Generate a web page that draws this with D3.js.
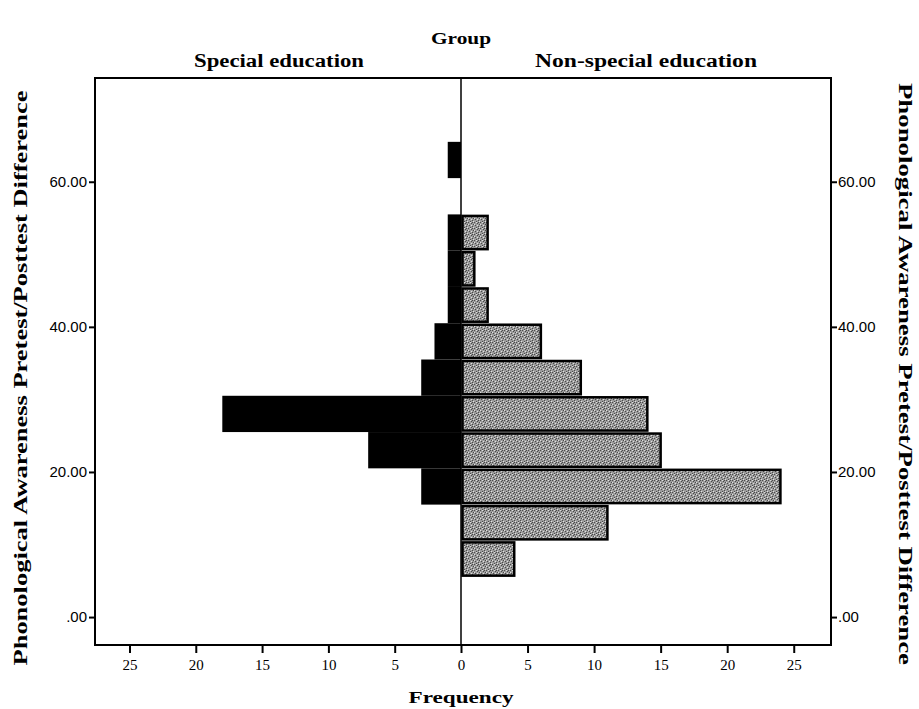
<!DOCTYPE html>
<html>
<head>
<meta charset="utf-8">
<script src="https://cdn.jsdelivr.net/npm/d3@7/dist/d3.min.js"></script>
<style>
  body { margin: 0; background: #fff; }
  .title { font-family: "Liberation Serif", "DejaVu Serif", serif; font-weight: bold; }
  .ytick text { font-family: "Liberation Sans", Arial, sans-serif; font-size: 15px; }
  .xtick text { font-family: "Liberation Serif", serif; font-size: 15px; }
</style>
</head>
<body>
<div id="root"></div>
<script>
// Size of the page
const width = 919;
const height = 709;

// Plot frame
const frameLeft = 95;
const frameRight = 831;
const frameTop = 78;
const frameBottom = 645;
const center = 461;

// Histogram bins (lower edge of each 5-point bin)
const binStarts = [5.5, 10.5, 15.5, 20.5, 25.5, 30.5, 35.5, 40.5, 45.5, 50.5, 55.5, 60.5];
const binWidth = 5;

// Frequencies per bin
const specialEd = [0, 0, 3, 7, 18, 3, 2, 1, 1, 1, 0, 1];
const nonSpecialEd = [4, 11, 24, 15, 14, 9, 6, 2, 1, 2, 0, 0];

// Tick values and labels
const yTicks = [0, 20, 40, 60];
const yTickLabels = [".00", "20.00", "40.00", "60.00"];
const xTicks = [0, 5, 10, 15, 20, 25];

const groupTitle = "Group";
const panelTitles = ["Special education", "Non-special education"];
const yTitle = "Phonological Awareness Pretest/Posttest Difference";
const xTitle = "Frequency";

// Creating svg
const svg = d3
  .select("#root")
  .append("svg")
  .attr("width", width)
  .attr("height", height);

// Texture for the grey bars
const defs = svg.append("defs");
const pat = defs
  .append("pattern")
  .attr("id", "grain")
  .attr("patternUnits", "userSpaceOnUse")
  .attr("width", 6)
  .attr("height", 6);
pat.append("rect").attr("width", 6).attr("height", 6).attr("fill", "#9c9c9c");
[[0, 0], [3, 1], [1, 3], [4, 4], [2, 5], [5, 2], [4, 0]].forEach(p => {
  pat.append("rect").attr("x", p[0]).attr("y", p[1]).attr("width", 1).attr("height", 1).attr("fill", "#4a4a4a");
});
[[2, 0], [0, 2], [5, 5], [3, 3]].forEach(p => {
  pat.append("rect").attr("x", p[0]).attr("y", p[1]).attr("width", 1).attr("height", 1).attr("fill", "#e0e0e0");
});

// Scales
const yScale = d3.scaleLinear().domain([-3.85, 74.3]).range([frameBottom, frameTop]);
const xLeft = d3.scaleLinear().domain([0, 27.6]).range([center, frameLeft]);
const xRight = d3.scaleLinear().domain([0, 27.8]).range([center, frameRight]);

// Bars: special education (left, black)
svg
  .append("g")
  .attr("class", "special-bars")
  .selectAll("rect")
  .data(binStarts.map((b, i) => ({ b: b, n: specialEd[i] })).filter(d => d.n > 0))
  .enter()
  .append("rect")
  .attr("x", d => xLeft(d.n))
  .attr("y", d => yScale(d.b + binWidth))
  .attr("width", d => center - xLeft(d.n))
  .attr("height", d => yScale(d.b) - yScale(d.b + binWidth))
  .attr("fill", "#000");

// Bars: non-special education (right, grey)
svg
  .append("g")
  .attr("class", "nonspecial-bars")
  .selectAll("rect")
  .data(binStarts.map((b, i) => ({ b: b, n: nonSpecialEd[i] })).filter(d => d.n > 0))
  .enter()
  .append("rect")
  .attr("x", center + 1.5)
  .attr("y", d => yScale(d.b + binWidth) + 1.5)
  .attr("width", d => xRight(d.n) - center - 1.5)
  .attr("height", d => yScale(d.b) - yScale(d.b + binWidth) - 3)
  .attr("fill", "url(#grain)")
  .attr("stroke", "#000")
  .attr("stroke-width", 2.5);

// Center line
svg
  .append("line")
  .attr("x1", center)
  .attr("x2", center)
  .attr("y1", frameTop)
  .attr("y2", frameBottom)
  .attr("stroke", "#000")
  .attr("stroke-width", 1.5);

// Frame
svg
  .append("rect")
  .attr("x", frameLeft)
  .attr("y", frameTop)
  .attr("width", frameRight - frameLeft)
  .attr("height", frameBottom - frameTop)
  .attr("fill", "none")
  .attr("stroke", "#000")
  .attr("stroke-width", 2);

// Y axes
const yAxisL = d3
  .axisLeft(yScale)
  .tickValues(yTicks)
  .tickSize(6)
  .tickPadding(2)
  .tickFormat((d, i) => yTickLabels[i]);

const yAxisR = d3
  .axisRight(yScale)
  .tickValues(yTicks)
  .tickSize(6)
  .tickPadding(1)
  .tickFormat((d, i) => yTickLabels[i]);

svg
  .append("g")
  .attr("class", "ytick")
  .attr("transform", "translate(" + frameLeft + ",0)")
  .call(yAxisL)
  .call(g => g.select(".domain").remove());

svg
  .append("g")
  .attr("class", "ytick")
  .attr("transform", "translate(" + frameRight + ",0)")
  .call(yAxisR)
  .call(g => g.select(".domain").remove());

// X axes
const xAxisL = d3.axisBottom(xLeft).tickValues(xTicks).tickSize(8).tickPadding(6).tickFormat(d3.format("d"));
const xAxisR = d3.axisBottom(xRight).tickValues(xTicks.slice(1)).tickSize(8).tickPadding(6).tickFormat(d3.format("d"));

svg
  .append("g")
  .attr("class", "xtick")
  .attr("transform", "translate(0," + frameBottom + ")")
  .call(xAxisL)
  .call(g => g.select(".domain").remove());

svg
  .append("g")
  .attr("class", "xtick")
  .attr("transform", "translate(0," + frameBottom + ")")
  .call(xAxisR)
  .call(g => g.select(".domain").remove());

svg.selectAll(".tick line").attr("stroke-width", 2);

// Titles
function addTitle(txt, x, y, size, len, rot) {
  svg
    .append("text")
    .attr("class", "title")
    .attr("transform", "translate(" + x + "," + y + ")" + (rot ? " rotate(" + rot + ")" : ""))
    .attr("text-anchor", "middle")
    .attr("font-size", size)
    .attr("textLength", len)
    .attr("lengthAdjust", "spacingAndGlyphs")
    .text(txt);
}

addTitle(groupTitle, center, 44, 17, 60);
addTitle(panelTitles[0], 279, 67, 18, 170);
addTitle(panelTitles[1], 646, 67, 18, 222);
addTitle(xTitle, center, 703, 17, 105);
addTitle(yTitle, 27, 378, 18, 575, -90);
addTitle(yTitle, 899, 374, 18, 582, 90);
</script>
</body>
</html>
